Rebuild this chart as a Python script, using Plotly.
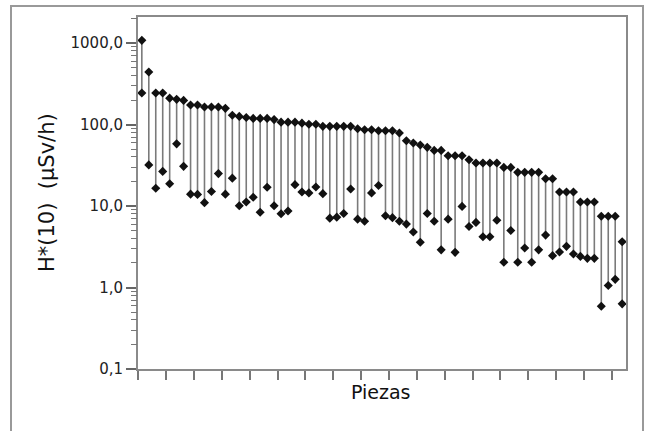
import plotly.graph_objects as go

# Dose-rate range per piece: highest and lowest H*(10) reading (µSv/h)
piezas = list(range(1, 71))
maximo = [1080, 441, 244, 244, 211, 204, 198, 174, 174, 164, 164, 164, 158, 130, 126,
          122, 119, 119, 119, 115, 107, 107, 107, 104, 101, 101, 95, 95, 95, 95,
          95, 89, 86.5, 86.5, 84, 84, 84, 78.7, 63.4, 59.3, 56, 52.5, 48.2, 48.2, 41.5,
          41.5, 41.5, 37, 33.7, 33.7, 33.7, 33.7, 29.8, 29.8, 25.9, 25.9, 25.9, 25.9, 21.6, 21.6,
          14.9, 14.9, 14.9, 11.2, 11.2, 11.2, 7.5, 7.5, 7.5, 3.65]
minimo = [244, 32, 16.5, 26.6, 18.8, 58, 30.7, 14.0, 13.9, 11.0, 15.1, 25, 14.0, 22, 10.1,
          11.2, 12.8, 8.4, 17, 10.1, 8.05, 8.7, 18.3, 14.9, 14.5, 17.1, 14.2, 7.1, 7.3, 8.1,
          16.2, 6.9, 6.5, 14.5, 17.9, 7.6, 7.2, 6.5, 6.0, 4.8, 3.6, 8.1, 6.5, 2.9, 6.9,
          2.7, 9.9, 5.6, 6.3, 4.2, 4.2, 6.7, 2.04, 5.0, 2.04, 3.05, 2.04, 2.9, 4.4, 2.46,
          2.73, 3.2, 2.58, 2.41, 2.28, 2.28, 0.59, 1.06, 1.26, 0.63]

y_ticks = [0.1, 1, 10, 100, 1000]
y_ticktext = ["0,1", "1,0", "10,0", "100,0", "1000,0"]

FONT = "DejaVu Sans"
Y_RANGE = [-1, 3.32]

# vertical segments from max to min for every piece
seg_x, seg_y = [], []
for p, hi, lo in zip(piezas, maximo, minimo):
    seg_x += [p, p, None]
    seg_y += [hi, lo, None]

fig = go.Figure()
fig.add_trace(go.Scatter(x=seg_x, y=seg_y, mode="lines",
                         line=dict(color="#7a7a7a", width=1.6),
                         hoverinfo="skip", showlegend=False))
fig.add_trace(go.Scatter(x=piezas + piezas, y=maximo + minimo, mode="markers",
                         marker=dict(symbol="diamond", size=7, color="#111111"),
                         showlegend=False))

# intermediate (2..9) log ticks drawn on an overlaid, label-free axis
minor_vals = [m * 10 ** e for e in range(-1, 4) for m in range(2, 10)]

fig.update_layout(
    width=649, height=431,
    margin=dict(l=138, r=23, t=17, b=62),
    paper_bgcolor="white", plot_bgcolor="white",
    font=dict(family=FONT, color="#222222"),
    xaxis=dict(range=[0.45, 70.55], showgrid=False, zeroline=False,
               tickmode="array", tickvals=[0.5 + 4 * k for k in range(18)],
               showticklabels=False, ticks="outside", ticklen=9, tickwidth=1.5,
               tickcolor="#777777", showline=True, linecolor="#8a8a8a",
               linewidth=2, mirror=True),
    yaxis=dict(type="log", range=Y_RANGE, showgrid=False, zeroline=False,
               tickmode="array", tickvals=y_ticks, ticktext=y_ticktext,
               ticks="outside", ticklen=10, tickwidth=1.5, tickcolor="#666666",
               tickfont=dict(size=15, color="#222222", family=FONT),
               showline=True, linecolor="#8a8a8a", linewidth=2, mirror=True),
    yaxis2=dict(type="log", range=Y_RANGE, overlaying="y", side="left",
                showgrid=False, zeroline=False, showline=False,
                tickmode="array", tickvals=minor_vals, showticklabels=False,
                ticks="outside", ticklen=6, tickwidth=1.2, tickcolor="#777777"),
    shapes=[dict(type="rect", xref="paper", yref="paper",
                 x0=(11 - 138) / 488, x1=(643 - 138) / 488,
                 y0=(369 - 445) / 352, y1=(369 - 6) / 352,
                 line=dict(color="#999999", width=2), layer="below")],
    annotations=[
        dict(text="H*(10)  (µSv/h)", xref="paper", yref="paper",
             x=(47 - 138) / 488, y=(369 - 193) / 352, xanchor="center",
             yanchor="middle", textangle=-90, showarrow=False,
             font=dict(size=21, color="#111111", family=FONT)),
        dict(text="Piezas", xref="paper", yref="paper",
             x=(381 - 138) / 488, y=(369 - 392) / 352, xanchor="center",
             yanchor="middle", showarrow=False,
             font=dict(size=19, color="#111111", family=FONT)),
    ],
)

# a hidden trace keeps the overlaid axis active
fig.add_trace(go.Scatter(x=[None], y=[None], yaxis="y2", showlegend=False,
                         hoverinfo="skip"))

fig.write_html("out.html")
